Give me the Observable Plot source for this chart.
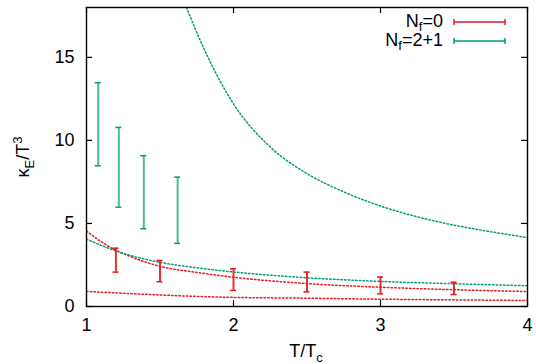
<!DOCTYPE html>
<html><head><meta charset="utf-8">
<script src="https://cdn.jsdelivr.net/npm/d3@7"></script>
<script src="https://cdn.jsdelivr.net/npm/@observablehq/plot@0.6"></script>
<style>body{margin:0;background:#fff}</style>
</head><body><div id="chart"></div>
<script>
// ---- data ----
const seriesNames = ["0", "2+1"];
const seriesColors = ["#e41a1c", "#009e73"];

// N_f = 0 error bars
const tRed = [1.2, 1.5, 2.0, 2.5, 3.0, 3.5];
const loRed = [2.07, 1.49, 0.97, 0.88, 0.76, 0.72];
const hiRed = [3.51, 2.77, 2.27, 2.07, 1.77, 1.46];

// N_f = 2+1 error bars
const tGreen = [1.08, 1.22, 1.39, 1.62];
const loGreen = [8.47, 5.98, 4.68, 3.80];
const hiGreen = [13.47, 10.78, 9.08, 7.79];

// dotted curves
const redUpperT = [1.0, 1.1, 1.2, 1.3, 1.4, 1.5, 1.75, 2.0, 2.5, 3.0, 3.5, 4.0];
const redUpperV = [4.55, 3.9, 3.38, 3.0, 2.68, 2.42, 2.05, 1.76, 1.38, 1.16, 1.01, 0.9];
const redLowerT = [1.0, 1.34, 1.68, 2.0, 2.5, 3.0, 3.5, 4.0];
const redLowerV = [0.91, 0.76, 0.63, 0.55, 0.5, 0.44, 0.4, 0.36];
const greenLowerT = [1.0, 1.1, 1.2, 1.3, 1.4, 1.5, 1.75, 2.0, 2.5, 3.0, 3.5, 4.0];
const greenLowerV = [4.05, 3.68, 3.35, 3.07, 2.85, 2.66, 2.33, 2.08, 1.73, 1.51, 1.37, 1.25];
const greenUpperT = [1.68, 1.8, 2.0, 2.25, 2.5, 2.75, 3.0, 3.25, 3.5, 3.75, 4.0];
const greenUpperV = [18.0, 15.5, 12.2, 9.6, 8.0, 6.9, 6.05, 5.4, 4.9, 4.5, 4.15];

const xTicks = [1, 2, 3, 4];
const yTicks = [0, 5, 10, 15];

// ---- tables built from the arrays ----
const redBars = tRed.map((t, i) => ({t, lo: loRed[i], hi: hiRed[i]}));
const greenBars = tGreen.map((t, i) => ({t, lo: loGreen[i], hi: hiGreen[i]}));
const mk = (T, V, c) => T.map((t, i) => ({t, v: V[i], c}));
const curves = [
  mk(redUpperT, redUpperV, seriesColors[0]),
  mk(redLowerT, redLowerV, seriesColors[0]),
  mk(greenLowerT, greenLowerV, seriesColors[1]),
  mk(greenUpperT, greenUpperV, seriesColors[1])
];

const fam = "'Liberation Sans', Arial, Helvetica, sans-serif";
const W = 536, H = 364, ML = 86, MR = 9, MT = 7, MB = 58;
const innerW = W - ML - MR, innerH = H - MT - MB, TICK = 6;

function bars(data, color, op) {
  return [
    Plot.ruleX(data, {x: "t", y1: "lo", y2: "hi", stroke: color, strokeWidth: 2, strokeOpacity: op}),
    Plot.ruleY(data, {y: "lo", x1: "t", x2: "t", insetLeft: -3, insetRight: -3, stroke: color, strokeWidth: 1.5}),
    Plot.ruleY(data, {y: "hi", x1: "t", x2: "t", insetLeft: -3, insetRight: -3, stroke: color, strokeWidth: 1.5})
  ];
}

const chart = Plot.plot({
  width: W, height: H,
  marginLeft: ML, marginRight: MR, marginTop: MT, marginBottom: MB,
  x: {domain: [1, 4]},
  y: {domain: [0, 18]},
  style: {fontFamily: fam, fontSize: "18px", color: "#000", background: "#fff", overflow: "visible"},
  marks: [
    ...curves.map(c => Plot.line(c, {x: "t", y: "v", stroke: "c", strokeWidth: 1.5, strokeDasharray: "1.5,2.2", curve: "monotone-x", clip: true})),
    ...bars(greenBars, seriesColors[1], 0.7),
    ...bars(redBars, seriesColors[0], 0.9),
    // inward ticks on all four sides
    Plot.ruleX(xTicks, {x: d => d, insetTop: innerH - TICK, stroke: "#000", strokeWidth: 1.2}),
    Plot.ruleX(xTicks, {x: d => d, insetBottom: innerH - TICK, stroke: "#000", strokeWidth: 1.2}),
    Plot.ruleY(yTicks, {y: d => d, insetRight: innerW - TICK, stroke: "#000", strokeWidth: 1.2}),
    Plot.ruleY(yTicks, {y: d => d, insetLeft: innerW - TICK, stroke: "#000", strokeWidth: 1.2}),
    Plot.frame({stroke: "#000", strokeWidth: 1.4}),
    Plot.axisX(xTicks, {anchor: "bottom", tickSize: 0, tickPadding: 12, fontSize: 18, tickFormat: d => String(d), label: null}),
    Plot.axisY(yTicks, {anchor: "left", tickSize: 0, tickPadding: 12, fontSize: 18, tickFormat: d => String(d), label: null})
  ]
});
document.getElementById("chart").appendChild(chart);

// ---- labels and legend with sub/superscripts ----
const svg = d3.select(chart);
const g = svg.append("g").attr("font-family", fam).attr("font-size", 18).attr("fill", "#000");

// x label
const xl = g.append("text").attr("x", 306).attr("y", 357).attr("text-anchor", "middle");
xl.append("tspan").text("T/T");
xl.append("tspan").attr("font-size", 13).attr("dy", 5).text("c");

// y label
const yl = g.append("text").attr("transform", "translate(29,157) rotate(-90)").attr("text-anchor", "middle");
yl.append("tspan").text("κ");
yl.append("tspan").attr("font-size", 13).attr("dy", 5).text("E");
yl.append("tspan").attr("dy", -5).text("/T");
yl.append("tspan").attr("font-size", 13).attr("dy", -7).text("3");

// legend
const legY = [27, 46];
seriesNames.forEach((name, i) => {
  const t = g.append("text").attr("x", 443).attr("y", legY[i]).attr("text-anchor", "end");
  t.append("tspan").text("N");
  t.append("tspan").attr("font-size", 13).attr("dy", 4).text("f");
  t.append("tspan").attr("dy", -4).text("=" + name);
  const y = legY[i] - 5;
  const col = seriesColors[i];
  g.append("line").attr("x1", 454).attr("x2", 505).attr("y1", y).attr("y2", y).attr("stroke", col).attr("stroke-width", 1.5);
  g.append("line").attr("x1", 454).attr("x2", 454).attr("y1", y - 3).attr("y2", y + 3).attr("stroke", col).attr("stroke-width", 1.5);
  g.append("line").attr("x1", 505).attr("x2", 505).attr("y1", y - 3).attr("y2", y + 3).attr("stroke", col).attr("stroke-width", 1.5);
});
</script>
</body></html>
